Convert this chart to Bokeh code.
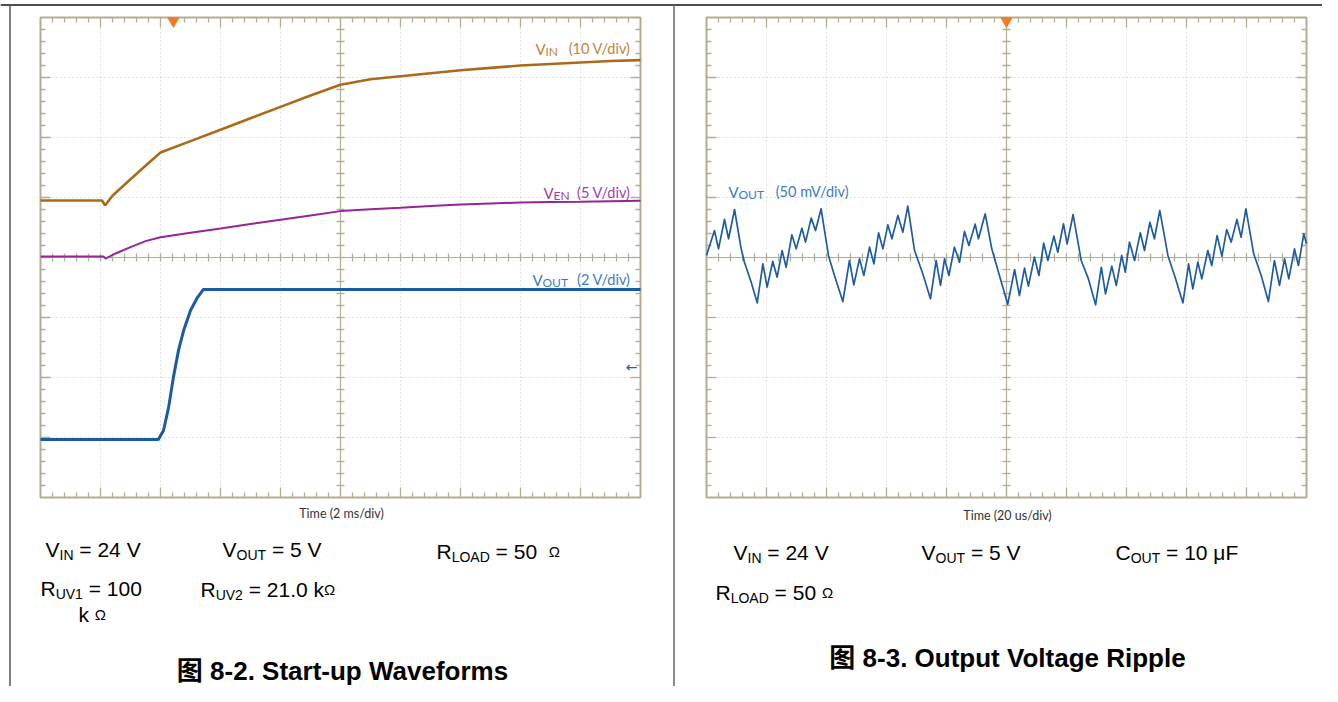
import numpy as np
from bokeh.plotting import figure
from bokeh.models import Range1d
from bokeh.core.properties import value
from bokeh.embed import file_html
from bokeh.resources import INLINE

# ---------------- data ----------------
# Figure 8-2: start-up waveforms (time in ms, 2 ms/div)
vin_t_ms = [0, 2.05, 2.15, 2.2, 2.4, 3.0, 3.5, 4.0, 5, 6, 7, 8, 9, 10, 11, 12, 13, 14, 15, 16, 17, 18, 19, 20]
vin_volts = [0, 0, -0.8, -0.5, 0.8, 3.55, 5.8, 8.0, 9.9, 11.8, 13.7, 15.6, 17.5, 19.3, 20.2, 20.7, 21.2,
             21.7, 22.1, 22.5, 22.75, 23.0, 23.25, 23.4]
ven_t_ms = [0, 2.1, 2.17, 2.5, 3, 3.5, 4, 5, 6, 7, 8, 9, 10, 11, 12, 13, 14, 15, 16, 17, 18, 19, 20]
ven_volts = [0, 0, -0.17, 0.25, 0.78, 1.28, 1.6, 1.97, 2.33, 2.7, 3.06, 3.42, 3.78, 3.93, 4.06, 4.2,
             4.33, 4.42, 4.5, 4.53, 4.56, 4.6, 4.64]
vout_t_ms = [0, 3.93, 4.1, 4.27, 4.43, 4.6, 4.77, 5.0, 5.23, 5.43, 20]
vout_volts = [0, 0, 0.3, 1.07, 2.07, 2.97, 3.63, 4.3, 4.73, 5.0, 5.0]

startup_channels = ["VIN", "VEN", "VOUT"]
startup_volts_per_div = [10, 5, 2]
startup_zero_div = [0.95, 0.017, -3.033]
startup_trigger_ms = 4.43

# Figure 8-3: output voltage ripple (time in us, 20 us/div; mV, 50 mV/div)
ripple_t_us = [0.0, 2.65, 4.0, 6.0, 7.35, 9.35, 11.55, 12.65, 14.9, 16.9, 18.8, 20.2, 22.1, 23.55, 25.2,
               26.55, 28.45, 29.9, 31.8, 33.0, 34.9, 36.35, 38.2, 40.65, 42.65, 45.45, 47.65, 49.1,
               51.0, 52.45, 54.35, 55.8, 57.35, 58.8, 60.45, 61.8, 63.8, 65.45, 67.1, 69.35, 72.1,
               74.65, 76.55, 78.0, 79.35, 80.8, 82.65, 84.35, 86.0, 87.45, 89.55, 90.65, 92.9, 95.1,
               97.65, 100.4, 102.7, 104.3, 106.0, 107.3, 109.3, 110.8, 112.4, 113.8, 115.8, 117.1,
               119.0, 120.2, 122.2, 124.9, 127.3, 129.7, 131.6, 133.0, 135.1, 136.6, 138.4, 139.6,
               141.0, 142.7, 144.6, 146.0, 147.8, 149.3, 151.1, 153.8, 156.2, 158.8, 160.7, 162.1,
               163.8, 165.1, 167.1, 168.4, 170.2, 171.8, 173.4, 174.9, 176.8, 178.2, 179.8, 182.4,
               184.9, 187.3, 189.3, 191.0, 192.7, 194.1, 196.0, 197.3, 199.1, 200.0]
ripple_mv = [1.7, 22.5, 7.2, 31.7, 15.6, 40.0, 7.2, -3.9, -20.6, -37.8, -5.3, -24.7, -3.3, -16.4, 5.8,
             -8.1, 18.9, 7.2, 24.4, 12.8, 32.8, 22.5, 40.6, 1.7, -15.0, -36.7, -2.5, -22.8,
             -1.1, -15.0, 8.6, -5.3, 20.6, 7.2, 27.2, 15.6, 35.0, 21.1, 42.8, 5.8, -13.6,
             -34.4, -2.5, -23.3, -1.1, -15.0, 8.6, -3.9, 21.7, 10.0, 27.8, 15.6, 36.4, 7.2,
             -15.0, -39.0, -10.0, -31.7, -8.9, -23.9, 0.3, -15.0, 11.9, -2.5, 17.8, 4.4,
             28.1, 11.4, 35.8, -2.5, -17.8, -39.4, -8.1, -30.3, -7.2, -23.3, 1.7, -12.2,
             12.8, -2.5, 20.6, 5.8, 29.4, 15.6, 39.2, 1.7, -16.4, -37.8, -5.3, -26.1,
             -3.9, -17.8, 5.8, -6.7, 18.3, 1.1, 23.3, 12.8, 31.7, 16.9, 40.6, 3.1,
             -15.0, -36.7, -2.5, -23.3, -1.1, -17.8, 7.2, -6.7, 19.7, 11.4]
ripple_mv_per_div = 50
ripple_trigger_us = 100

# ---------------- page geometry (reference pixels) ----------------
W_PX, H_PX = 1322, 686
X0, Y0 = 0, 0
X1, Y1 = X0 + W_PX, Y0 + H_PX
DIV_PX = 60
SCOPE_TOP, SCOPE_MID = 17, 257
L_LEFT, R_LEFT = 40, 706

FRAME = "#b3ad93"
DOTS = "#c8c8c8"

p = figure(width=W_PX, height=H_PX, x_range=Range1d(X0, X1), y_range=Range1d(Y1, Y0),
           output_backend="svg", toolbar_location=None, x_axis_type=None, y_axis_type=None,
           min_border=0, outline_line_color=None, background_fill_color="white",
           border_fill_color="white")

div_lo = (SCOPE_MID - Y1) / DIV_PX
div_hi = (SCOPE_MID - Y0) / DIV_PX


def time_range(left_px, per_div):
    return Range1d((X0 - left_px) / DIV_PX * per_div, (X1 - left_px) / DIV_PX * per_div)


def chan_range(per_div, zero_div):
    return Range1d((div_lo - zero_div) * per_div, (div_hi - zero_div) * per_div)


p.extra_x_ranges = {"t1": time_range(L_LEFT, 2.0), "t2": time_range(R_LEFT, 20.0)}
p.extra_y_ranges = {"div": Range1d(div_lo, div_hi)}
for name, vpd, z in zip(startup_channels, startup_volts_per_div, startup_zero_div):
    p.extra_y_ranges[name] = chan_range(vpd, z)
p.extra_y_ranges["mV"] = chan_range(ripple_mv_per_div, 0.0)

# ---------------- table rules ----------------
p.segment(x0=[X0, 9.5, 673.5], x1=[X1, 9.5, 673.5], y0=[4.5, 4.5, 4.5], y1=[4.5, Y1, Y1],
          line_color=["#111111", "#555555", "#666666"], line_width=[1.5, 1.5, 1.5])


# ---------------- scope graticules ----------------
def graticule(xname, per_div):
    t_end = 10 * per_div
    tpx = per_div / DIV_PX   # time per pixel
    dpx = 1.0 / DIV_PX       # div per pixel
    kw = dict(x_range_name=xname, y_range_name="div")
    xs = [i * per_div for i in range(1, 10) if i != 5]
    p.segment(x0=xs, x1=xs, y0=-4, y1=4, line_color=DOTS, line_width=1, line_dash="1 3", **kw)
    ys = [-3, -2, -1, 1, 2, 3]
    p.segment(x0=0, x1=t_end, y0=ys, y1=ys, line_color=DOTS, line_width=1, line_dash="1 3", **kw)
    # centre cross
    p.segment(x0=[5 * per_div, 0], x1=[5 * per_div, t_end], y0=[-4, 0], y1=[4, 0],
              line_color=FRAME, line_width=1.2, **kw)
    # ticks along horizontal edges and centre line
    kx = [k for k in range(1, 50)]
    tx = [k * 0.2 * per_div for k in kx]
    ln = [(10 if k % 5 == 0 else 5) * dpx for k in kx]
    p.segment(x0=tx, x1=tx, y0=4, y1=[4 - l for l in ln], line_color=FRAME, line_width=1.3, **kw)
    p.segment(x0=tx, x1=tx, y0=-4, y1=[-4 + l for l in ln], line_color=FRAME, line_width=1.3, **kw)
    p.segment(x0=tx, x1=tx, y0=-4 * dpx, y1=4 * dpx, line_color=FRAME, line_width=1.3, **kw)
    # ticks along vertical edges and centre line
    ky = [k for k in range(1, 40)]
    ty = [-4 + k * 0.2 for k in ky]
    lt = [(10 if k % 5 == 0 else 5) * tpx for k in ky]
    p.segment(x0=0, x1=lt, y0=ty, y1=ty, line_color=FRAME, line_width=1.3, **kw)
    p.segment(x0=t_end, x1=[t_end - l for l in lt], y0=ty, y1=ty, line_color=FRAME, line_width=1.3, **kw)
    p.segment(x0=5 * per_div - 4 * tpx, x1=5 * per_div + 4 * tpx, y0=ty, y1=ty,
              line_color=FRAME, line_width=1.3, **kw)
    # frame
    p.quad(left=0, right=t_end, bottom=-4, top=4, fill_color=None, line_color=FRAME,
           line_width=2, **kw)


graticule("t1", 2.0)
graticule("t2", 20.0)

# ---------------- traces ----------------
p.line(vin_t_ms, vin_volts, x_range_name="t1", y_range_name="VIN", line_color="#ab6a18",
       line_width=2.6)
p.line(ven_t_ms, ven_volts, x_range_name="t1", y_range_name="VEN", line_color="#952596",
       line_width=2.0)
p.line(vout_t_ms, vout_volts, x_range_name="t1", y_range_name="VOUT", line_color="#1d5aa4",
       line_width=3.0)
p.line(ripple_t_us, ripple_mv, x_range_name="t2", y_range_name="mV", line_color="#1f5c9f",
       line_width=1.7, line_join="round")

# trigger markers
p.scatter([startup_trigger_ms], [4 - 3.5 / DIV_PX], x_range_name="t1", y_range_name="div",
          marker="inverted_triangle", size=11, fill_color="#f47a22", line_color="#f47a22")
p.scatter([ripple_trigger_us], [4 - 3.5 / DIV_PX], x_range_name="t2", y_range_name="div",
          marker="inverted_triangle", size=11, fill_color="#f47a22", line_color="#f47a22")


# ---------------- texts ----------------
def txt(x, y, s, size, color, font="Lato", align="left", style="normal", baseline="alphabetic"):
    p.text(x=[x], y=[y], text=[s], text_font=value(font), text_font_size=f"{size}px",
           text_color=color, text_align=align, text_baseline=baseline, text_font_style=style)


# scope channel labels
LBL, LSUB, LV = 14.5, 12, 15
txt(535, 48, "V", LV, "#c4823c"); txt(545, 51, "IN", LSUB, "#c4823c")
txt(630, 48, "(10 V/div)", LBL, "#c4823c", align="right")
txt(543, 192, "V", LV, "#a23ea2"); txt(553, 195, "EN", LSUB, "#a23ea2")
txt(630, 192, "(5 V/div)", LBL, "#a23ea2", align="right")
txt(532, 279, "V", LV, "#3a7cc4"); txt(542, 282, "OUT", LSUB, "#3a7cc4")
txt(630, 279, "(2 V/div)", LBL, "#3a7cc4", align="right")
txt(631, 366, "←", 14, "#1d5aa4", font="DejaVu Sans", align="center", baseline="middle")
txt(728, 191, "V", LV, "#3a7cc4"); txt(738, 194, "OUT", LSUB, "#3a7cc4")
txt(848, 191, "(50 mV/div)", LBL, "#3a7cc4", align="right")
txt(341, 513, "Time (2 ms/div)", 12.5, "#333333", align="center")
txt(1007, 515, "Time (20 us/div)", 12.5, "#333333", align="center")

ARIAL = {' ': 278, '=': 584, '.': 278, '0': 556, '1': 556, '2': 556, '4': 556, '5': 556,
         'V': 667, 'I': 278, 'N': 722, 'O': 778, 'U': 722, 'T': 611, 'R': 722, 'L': 556,
         'A': 667, 'D': 722, 'C': 722, 'E': 667, 'k': 500, 'F': 611, 'μ': 576, 'Ω': 768}


def rich(x, y, parts):
    for s, size, dy in parts:
        lead = len(s) - len(s.lstrip(" "))
        x += lead * ARIAL[' '] / 1000 * size
        body = s.strip(" ")
        if body:
            txt(x, y + dy, body, size, "#000000", font="Liberation Sans")
        x += sum(ARIAL.get(c, 600) for c in s[lead:]) / 1000 * size


BIG, SUB, OHM, DROP = 21, 14, 15, 5
rich(45, 549, [("V", BIG, 0), ("IN", SUB, DROP), (" = 24 V", BIG, 0)])
rich(222, 549, [("V", BIG, 0), ("OUT", SUB, DROP), (" = 5 V", BIG, 0)])
rich(436, 551, [("R", BIG, 0), ("LOAD", SUB, DROP), (" = 50  ", BIG, 0), ("Ω", OHM, 0)])
rich(40, 588, [("R", BIG, 0), ("UV1", SUB, DROP), (" = 100", BIG, 0)])
rich(78, 614, [("k ", BIG, 0), ("Ω", OHM, 0)])
rich(200, 589, [("R", BIG, 0), ("UV2", SUB, DROP), (" = 21.0 k", BIG, 0), ("Ω", OHM, 0)])
txt(342, 670, "图 8-2. Start-up Waveforms", 26, "#000000",
    font="Liberation Sans, Noto Sans CJK SC", align="center", style="bold")

rich(733, 552, [("V", BIG, 0), ("IN", SUB, DROP), (" = 24 V", BIG, 0)])
rich(921, 552, [("V", BIG, 0), ("OUT", SUB, DROP), (" = 5 V", BIG, 0)])
rich(1115, 552, [("C", BIG, 0), ("OUT", SUB, DROP), (" = 10 μF", BIG, 0)])
rich(715, 592, [("R", BIG, 0), ("LOAD", SUB, DROP), (" = 50 ", BIG, 0), ("Ω", OHM, 0)])
txt(1007, 657, "图 8-3. Output Voltage Ripple", 26, "#000000",
    font="Liberation Sans, Noto Sans CJK SC", align="center", style="bold")

open("out.html", "w").write(file_html(p, INLINE))
